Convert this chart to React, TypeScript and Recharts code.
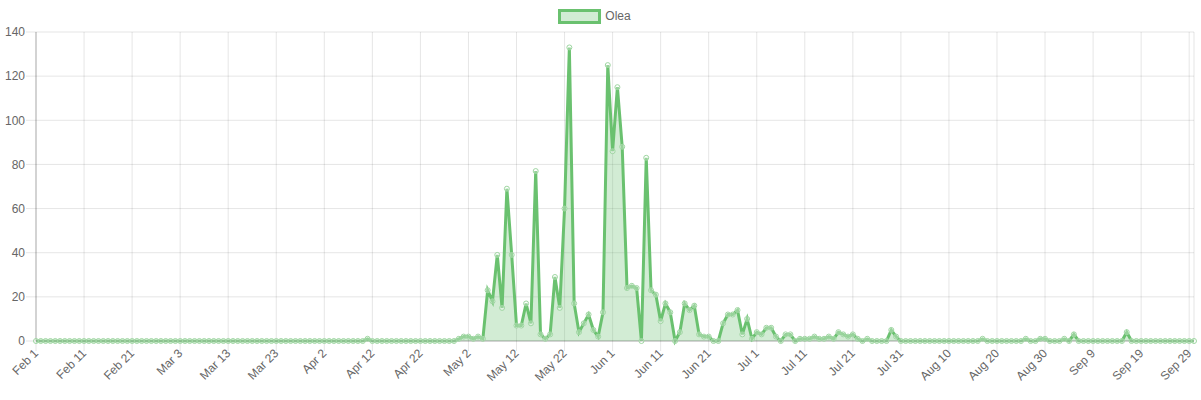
import React from 'react';
import { AreaChart, Area, XAxis, YAxis, CartesianGrid, Legend } from 'recharts';

const monthNames = ['Feb', 'Mar', 'Apr', 'May', 'Jun', 'Jul', 'Aug', 'Sep'];
const monthLengths = [28, 31, 30, 31, 30, 31, 31, 30];

const febValues = [
  0, 0, 0, 0, 0, 0, 0, 0, 0, 0,
  0, 0, 0, 0, 0, 0, 0, 0, 0, 0,
  0, 0, 0, 0, 0, 0, 0, 0,
];
const marValues = [
  0, 0, 0, 0, 0, 0, 0, 0, 0, 0,
  0, 0, 0, 0, 0, 0, 0, 0, 0, 0,
  0, 0, 0, 0, 0, 0, 0, 0, 0, 0,
  0,
];
const aprValues = [
  0, 0, 0, 0, 0, 0, 0, 0, 0, 0,
  1, 0, 0, 0, 0, 0, 0, 0, 0, 0,
  0, 0, 0, 0, 0, 0, 0, 0, 0, 1,
];
const mayValues = [
  2, 2, 1, 2, 1, 23, 18, 39, 15, 69,
  39, 7, 7, 17, 8, 77, 3, 1, 3, 29,
  15, 60, 133, 17, 4, 8, 12, 5, 2, 13,
  125,
];
const junValues = [
  86, 115, 88, 24, 25, 24, 0, 83, 23, 21,
  9, 17, 13, 0, 4, 17, 14, 16, 3, 2,
  2, 0, 0, 8, 12, 12, 14, 3, 10, 1,
];
const julValues = [
  4, 3, 6, 6, 2, 0, 3, 3, 0, 1,
  1, 1, 2, 1, 1, 2, 1, 4, 3, 2,
  3, 1, 0, 1, 0, 0, 0, 0, 5, 2,
  0,
];
const augValues = [
  0, 0, 0, 0, 0, 0, 0, 0, 0, 0,
  0, 0, 0, 0, 0, 0, 1, 0, 0, 0,
  0, 0, 0, 0, 0, 1, 0, 0, 1, 1,
  0,
];
const sepValues = [
  0, 0, 1, 0, 3, 0, 0, 0, 0, 0,
  0, 0, 0, 0, 0, 4, 0, 0, 0, 0,
  0, 0, 0, 0, 0, 0, 0, 0, 0, 0,
];

const seriesName = 'Olea';
const yTicks = [0, 20, 40, 60, 80, 100, 120, 140];

const monthValues = [febValues, marValues, aprValues, mayValues, junValues, julValues, augValues, sepValues];

const data: { label: string; value: number }[] = [];
monthNames.forEach((m, mi) => {
  for (let d = 1; d <= monthLengths[mi]; d++) {
    data.push({ label: `${m} ${d}`, value: monthValues[mi][d - 1] });
  }
});

const FONT = "'Liberation Sans', Arial, Helvetica, sans-serif";
const LINE = '#6ac16f';
const GRID = 'rgba(0,0,0,0.1)';

const XTick = (props: any) => {
  const { x, y, payload } = props;
  return (
    <g transform={`translate(${x},${y})`}>
      <text
        x={0}
        y={0}
        dy="0.35em"
        textAnchor="end"
        transform="rotate(-45)"
        fill="#666"
        fontSize={12}
        fontFamily={FONT}
      >
        {payload.value}
      </text>
    </g>
  );
};

const LegendContent = () => (
  <div
    style={{
      display: 'flex',
      justifyContent: 'center',
      alignItems: 'flex-start',
      height: 24,
      paddingTop: 1,
      paddingRight: 5,
      boxSizing: 'border-box',
      fontFamily: FONT,
      fontSize: 12,
      color: '#666',
    }}
  >
    <svg width={43} height={15} style={{ display: 'block' }}>
      <rect x={1.5} y={1.5} width={40} height={12} fill={LINE} fillOpacity={0.3} stroke={LINE} strokeWidth={3} />
    </svg>
    <span style={{ marginLeft: 4, lineHeight: '15px' }}>{seriesName}</span>
  </div>
);

export default function App() {
  return (
    <div style={{ position: 'absolute', left: 0, top: 0, width: 1201, height: 400, background: '#fff' }}>
      <AreaChart width={1201} height={400} data={data} margin={{ top: 8, right: 7, left: 0, bottom: 0 }}>
        <Legend verticalAlign="top" height={24} content={LegendContent} />
        <CartesianGrid stroke={GRID} />
        <XAxis
          dataKey="label"
          interval={9}
          height={59}
          tickSize={10}
          tickMargin={0}
          tick={<XTick />}
          tickLine={{ stroke: GRID }}
          axisLine={{ stroke: 'rgba(0,0,0,0.25)' }}
        />
        <YAxis
          width={36}
          domain={[0, 140]}
          ticks={yTicks}
          tickSize={10}
          tickMargin={1}
          tick={{ fill: '#666', fontSize: 12, fontFamily: FONT }}
          tickLine={{ stroke: GRID }}
          axisLine={{ stroke: 'rgba(0,0,0,0.25)' }}
        />
        <Area
          type="linear"
          dataKey="value"
          name={seriesName}
          stroke={LINE}
          strokeWidth={3}
          fill={LINE}
          fillOpacity={0.3}
          dot={{ r: 2.5, fill: '#fff', stroke: '#9fd6a2', strokeWidth: 1 }}
          activeDot={false}
          isAnimationActive={false}
        />
      </AreaChart>
    </div>
  );
}
